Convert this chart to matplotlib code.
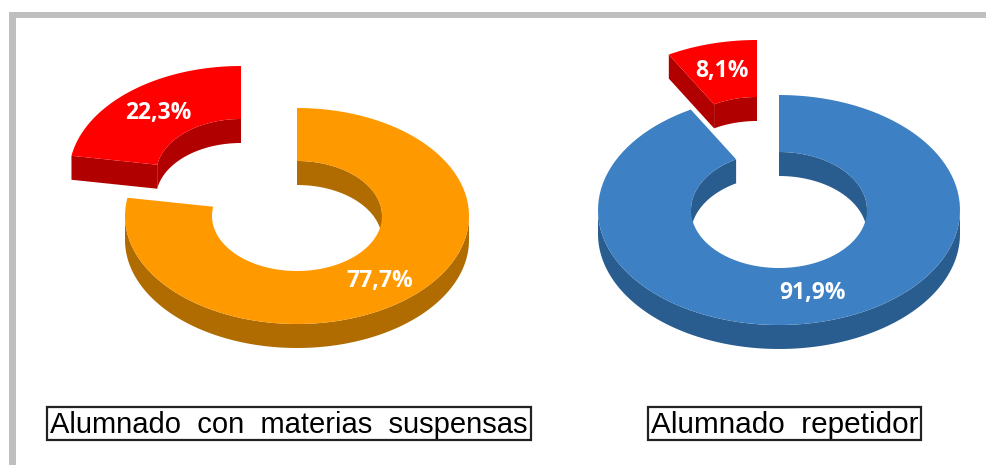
import numpy as np
import matplotlib
matplotlib.use("Agg")
import matplotlib.pyplot as plt
from matplotlib.patches import Rectangle

# Data
titles = ["Alumnado con materias suspensas", "Alumnado repetidor"]
main_values = [77.7, 91.9]
red_values = [22.3, 8.1]
main_labels = ["77,7%", "91,9%"]
red_labels = ["22,3%", "8,1%"]

# Geometry in pixels
centers = [(297, 216), (779, 210)]
outer_radii = [(172, 108), (181, 115)]
inner_radii = [(85, 55), (88, 58)]
depths = [24, 24]
red_offsets = [(-56, -42), (-22, -55)]
main_label_pos = [(380, 281), (813, 293)]
red_label_pos = [(158, 113), (722, 71)]
title_boxes = [(47, 407, 484, 33), (648, 407, 273, 33)]
title_sizes = [21, 21.4]

main_colors = ["#FF9900", "#3D80C4"]
main_dark = ["#B06C00", "#2A5D8F"]
red_color = "#FF0000"
red_dark = "#B00000"


def ring_pt(c, r, t):
    return c[0] + r[0] * np.sin(t), c[1] - r[1] * np.cos(t)


def arc(c, r, t0, t1):
    t = np.linspace(t0, t1, 120)
    return ring_pt(c, r, t)


def draw_sector(ax, c, ro, ri, depth, t0, t1, top, dark, cut_start=False):
    # inner wall, only the back half of the hole shows
    for a, b in [(0, np.pi / 2), (1.5 * np.pi, 2 * np.pi)]:
        lo, hi = max(a, t0), min(b, t1)
        if hi - lo > 0.2:
            x, y = arc(c, ri, lo, hi)
            ax.fill(np.r_[x, x[::-1]], np.r_[y, y[::-1] + depth], color=dark, lw=0, zorder=2)
    # outer wall, front half
    lo, hi = max(np.pi / 2, t0), min(1.5 * np.pi, t1)
    if lo < hi:
        x, y = arc(c, ro, lo, hi)
        ax.fill(np.r_[x, x[::-1]], np.r_[y, y[::-1] + depth], color=dark, lw=0, zorder=2)
    # cut face of the exploded piece
    if cut_start:
        xo, yo = ring_pt(c, ro, t0)
        xi, yi = ring_pt(c, ri, t0)
        ax.fill([xo, xi, xi, xo], [yo, yi, yi + depth, yo + depth], color=dark, lw=0, zorder=2)
    # top face
    xo, yo = arc(c, ro, t0, t1)
    xi, yi = arc(c, ri, t0, t1)
    ax.fill(np.r_[xo, xi[::-1]], np.r_[yo, yi[::-1]], color=top, lw=0, zorder=3)


fig = plt.figure(figsize=(9.87, 4.65), dpi=100)
ax = fig.add_axes([0, 0, 1, 1])
ax.set_xlim(0, 987)
ax.set_ylim(465, 0)
ax.axis("off")

# grey frame on top and left
ax.add_patch(Rectangle((9, 12), 978, 6, color="#BFBFBF", lw=0))
ax.add_patch(Rectangle((9, 12), 7, 453, color="#BFBFBF", lw=0))

for i in range(2):
    c = centers[i]
    split = 2 * np.pi * main_values[i] / (main_values[i] + red_values[i])
    draw_sector(ax, c, outer_radii[i], inner_radii[i], depths[i], 0, split,
                main_colors[i], main_dark[i])
    c_red = (c[0] + red_offsets[i][0], c[1] + red_offsets[i][1])
    draw_sector(ax, c_red, outer_radii[i], inner_radii[i], depths[i], split, 2 * np.pi,
                red_color, red_dark, cut_start=True)

    ax.text(*main_label_pos[i], main_labels[i], color="white", fontsize=16.5, fontweight="bold",
            family="Open Sans", ha="center", va="center", zorder=5)
    ax.text(*red_label_pos[i], red_labels[i], color="white", fontsize=16.5, fontweight="bold",
            family="Open Sans", ha="center", va="center", zorder=5)

    x, y, w, h = title_boxes[i]
    ax.add_patch(Rectangle((x, y), w, h, fill=False, ec="#222222", lw=1.6, zorder=4))
    ax.text(x + w / 2, y + h / 2 + 1, titles[i].replace(" ", "  "), color="black",
            fontsize=title_sizes[i], family="Liberation Sans", ha="center", va="center", zorder=5)

fig.savefig("out.png", dpi=100)
